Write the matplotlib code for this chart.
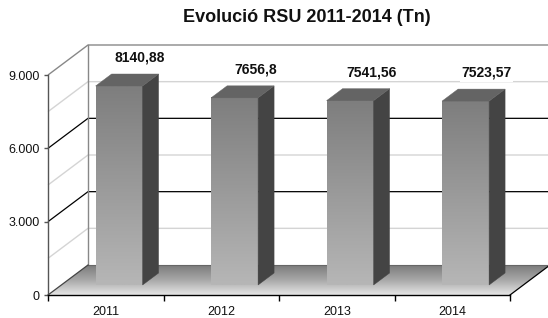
import numpy as np
import matplotlib
matplotlib.use("Agg")
import matplotlib.pyplot as plt
from matplotlib.patches import Polygon

# ---- data ----
categories = ["2011", "2012", "2013", "2014"]
values = [8140.88, 7656.8, 7541.56, 7523.57]
value_labels = ["8140,88", "7656,8", "7541,56", "7523,57"]
y_ticks = [0, 3000, 6000, 9000]
y_tick_labels = ["0", "3.000", "6.000", "9.000"]
minor_grid = [1500, 4500, 7500]
title = "Evolució RSU 2011-2014 (Tn)"

plt.rcParams['font.family'] = ['Liberation Sans', 'DejaVu Sans']

W, H = 548, 318
fig = plt.figure(figsize=(W / 100, H / 100), dpi=100)
# front plane of the 3D box
ax = fig.add_axes([48 / W, (H - 295) / H, 462 / W, 220 / H])
n = len(categories)
ymax = 9000
ax.set_xlim(-0.5, n - 0.5)
ax.set_ylim(0, ymax)

# depth vector (full depth) in data units
px_per_cat = 462 / n
px_per_val = 220 / ymax
DX = 40 / px_per_cat
DY = 30 / px_per_val

x0, x1 = -0.5, n - 0.5

# ---- floor gradient ----
floor = Polygon([(x0, 0), (x1, 0), (x1 + DX, DY), (x0 + DX, DY)],
                closed=True, facecolor='none', edgecolor='none')
ax.add_patch(floor)
floor.set_clip_on(False)
grad = np.linspace(0, 1, 100).reshape(-1, 1)
floor_cmap = matplotlib.colors.LinearSegmentedColormap.from_list(
    'fl', ['#e6e6e6', '#a8a8a8', '#7c7c7c'])
im = ax.imshow(grad, extent=[x0, x1 + DX, 0, DY], origin='lower', aspect='auto',
               cmap=floor_cmap, vmin=0, vmax=1, zorder=1, interpolation='bilinear')
im.set_clip_path(floor)
im.set_clip_box(fig.bbox)

# ---- walls & grid ----
def wall_line(v, color, lw, z=0.5):
    ax.plot([x0, x0 + DX, x1 + DX + 1], [v, v + DY, v + DY], color=color, lw=lw,
            clip_on=False, zorder=z, solid_capstyle='butt')

for v in minor_grid:
    wall_line(v, '#d4d4d4', 1.0)
for v in y_ticks[1:-1]:
    wall_line(v, '#000000', 0.9)
wall_line(ymax, '#888888', 1.0)
ax.plot([x0 + DX, x0 + DX], [DY, ymax + DY], color='#888888', lw=1.0,
        clip_on=False, zorder=0.6)
# floor outline
ax.plot([x1, x1 + DX], [0, DY], color='#000000', lw=0.9, clip_on=False, zorder=2)
ax.plot([x0, x0 + DX], [0, DY], color='#444444', lw=0.9, clip_on=False, zorder=2)
ax.plot([x0 + DX, x1 + DX + 1], [DY, DY], color='#666666', lw=0.8, clip_on=False, zorder=1.5)

# ---- bars ----
f0 = 1 / 3      # depth of front face
fd = 0.4        # bar depth
bw = 47 / px_per_cat
ox, oy = DX * f0, DY * f0
ddx, ddy = DX * fd, DY * fd
bar_cmap = matplotlib.colors.LinearSegmentedColormap.from_list('bf', ['#b6b6b6', '#7e7e7e'])
for i, v in enumerate(values):
    l = i - bw / 2 + ox
    r = i + bw / 2 + ox
    b = oy
    t = v + oy
    ax.imshow(np.linspace(0, 1, 100).reshape(-1, 1), extent=[l, r, b, t], origin='lower',
              aspect='auto', cmap=bar_cmap, zorder=3 + i, interpolation='bilinear')
    side = Polygon([(r, b), (r + ddx, b + ddy), (r + ddx, t + ddy), (r, t)], closed=True,
                   facecolor='#444444', edgecolor='#444444', lw=0.3, zorder=3 + i, clip_on=False)
    ax.add_patch(side)
    top = Polygon([(l, t), (r, t), (r + ddx, t + ddy), (l + ddx, t + ddy)], closed=True,
                  facecolor='#646464', edgecolor='#646464', lw=0.3, zorder=3 + i, clip_on=False)
    ax.add_patch(top)
    ax.text(i + ox + 21 / px_per_cat, v + 1560, value_labels[i], ha='center', va='center',
            fontsize=10, fontweight='bold', color='#111111', zorder=10,
            bbox=dict(boxstyle='square,pad=0.12', facecolor='white', edgecolor='none'))

ax.set_xlim(-0.5, n - 0.5)
ax.set_ylim(0, ymax)

# ---- axes ----
for s in ['top', 'right']:
    ax.spines[s].set_visible(False)
ax.spines['left'].set_color('#555555')
ax.spines['left'].set_linewidth(1.0)
ax.spines['bottom'].set_color('#000000')
ax.spines['bottom'].set_linewidth(1.0)
ax.spines['left'].set_zorder(20)
ax.spines['bottom'].set_zorder(20)
ax.set_facecolor('none')
ax.set_yticks(y_ticks)
ax.set_yticklabels(y_tick_labels)
ax.set_xticks(np.arange(n + 1) - 0.5)
ax.set_xticklabels([])
ax.set_xticks(np.arange(n), minor=True)
ax.set_xticklabels(categories, minor=True)
ax.tick_params(axis='y', direction='out', length=3, width=1, color='#555555',
               labelsize=9, pad=3, labelcolor='#111111')
ax.tick_params(axis='x', which='major', direction='out', length=4, width=1, color='#000000')
ax.tick_params(axis='x', which='minor', length=0, labelsize=9, pad=8, labelcolor='#111111')

fig.text(307 / W, 1 - 17 / H, title, ha='center', va='center', fontsize=13,
         fontweight='bold', color='#111111')

fig.savefig('out.png', dpi=100)
